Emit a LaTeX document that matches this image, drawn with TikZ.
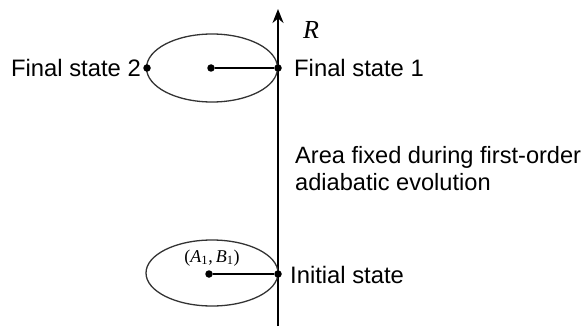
\documentclass[tikz,border=0pt]{standalone}
\usepackage{fontspec}
\setmainfont{Liberation Sans}
\newfontfamily\serifit{Liberation Serif}
\usetikzlibrary{arrows.meta}
\begin{document}
\begin{tikzpicture}[x=1pt,y=-1pt,
  dot/.style={circle,fill=black,inner sep=0pt,minimum size=7.5pt},
  lbl/.style={font=\fontsize{23.8}{28}\selectfont,inner sep=0pt},
  lbla/.style={font=\fontsize{23.6}{28}\selectfont,inner sep=0pt,anchor=base west},
  orbit/.style={draw=black!80,line width=1.3pt},
  link/.style={line width=1.3pt}]
\useasboundingbox (0,0) rectangle (585,326);
% axis
\coordinate (axbot) at (278,326);
\coordinate (axtop) at (278,9);
\draw[line width=1.8pt,-{Stealth[length=14pt,width=11pt]}] (axbot) -- (axtop);
\node[inner sep=0pt,font=\serifit\itshape\fontsize{26}{28}\selectfont] (R) at (311,30) {R};
% top ellipse
\draw[orbit] (212,68) ellipse [x radius=65.5, y radius=34];
\node[dot] (c2) at (211,68) {};
\node[dot] (f1) at (278,68) {};
\node[dot] (f2) at (147,68) {};
\draw[link] (c2) -- (f1);
\node[lbl,anchor=base west] (tf1) at (294,77) {Final state 1};
\node[lbl,anchor=base east] (tf2) at (141,77) {Final state 2};
% text
\node[lbla] (area1) at (295,163) {Area fixed during first-order};
\node[lbla] (area2) at (295,190) {adiabatic evolution};
% bottom ellipse
\draw[orbit] (212,273) ellipse [x radius=66, y radius=33];
\node[dot] (c1) at (209,274) {};
\node[dot] (i1) at (278,274) {};
\draw[link] (c1) -- (i1);
\node[inner sep=0pt,font=\serifit\fontsize{18}{20}\selectfont] (ab) at (212,258) {(\textit{A}\textsubscript{1},\,\textit{B}\textsubscript{1})};
\node[lbl,anchor=base west] (ti) at (290,283) {Initial state};
\end{tikzpicture}
\end{document}
